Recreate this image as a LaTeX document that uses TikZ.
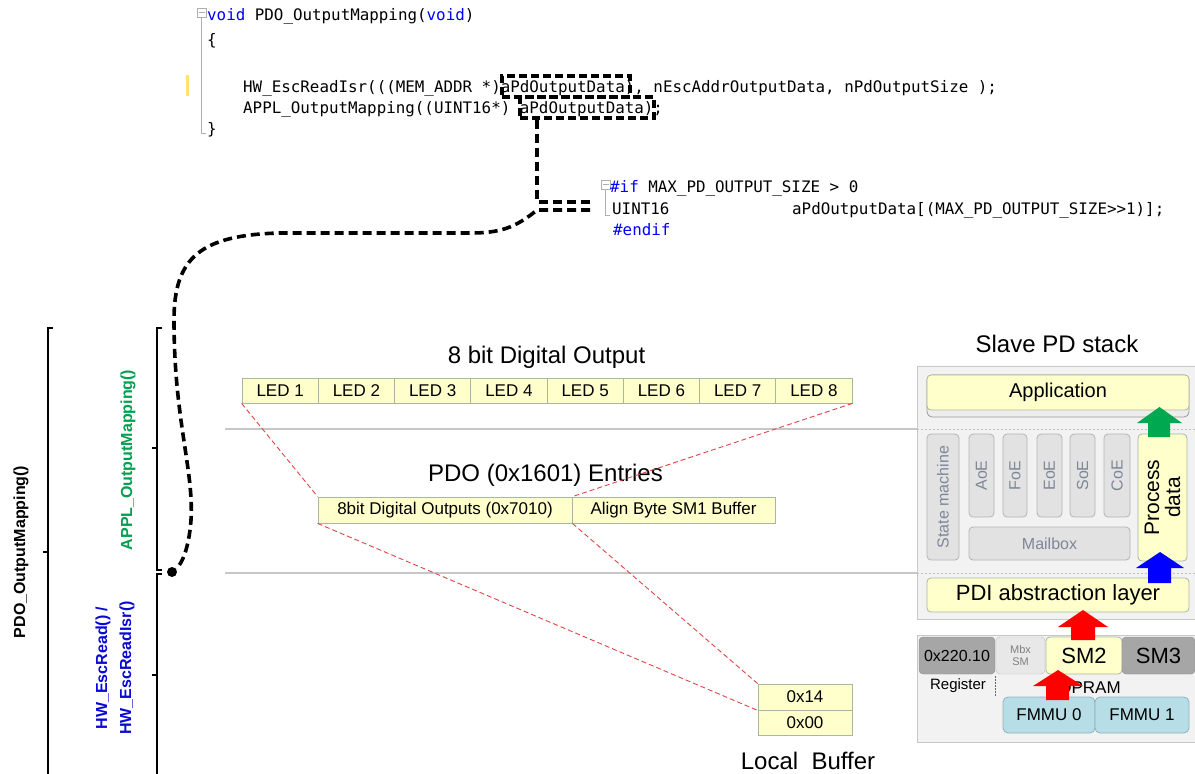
\documentclass[tikz,border=0pt]{standalone}
\usepackage{fontspec}
\setmainfont{Liberation Sans}
\newfontfamily\codefont{DejaVu Sans Mono}
\newcommand\fsz[2]{\fontsize{#1}{#2}\selectfont}
\definecolor{cellfill}{RGB}{255,255,204}
\definecolor{cellborder}{RGB}{168,184,160}
\definecolor{redline}{RGB}{220,70,70}
\definecolor{vsblue}{RGB}{0,0,255}
\definecolor{applgreen}{RGB}{0,160,80}
\definecolor{hwblue}{RGB}{10,10,210}
\definecolor{stackbg}{RGB}{242,242,242}
\definecolor{stackborder}{RGB}{200,200,200}
\definecolor{modfill}{RGB}{226,226,226}
\definecolor{modborder}{RGB}{180,180,180}
\definecolor{modtext}{RGB}{125,135,150}
\definecolor{darkcell}{RGB}{166,166,166}
\definecolor{tealfill}{RGB}{183,221,230}
\definecolor{tealborder}{RGB}{140,180,190}
\definecolor{arrgreen}{RGB}{0,168,80}
\definecolor{arrblue}{RGB}{0,0,255}
\definecolor{arrred}{RGB}{255,0,0}
\definecolor{foldgray}{RGB}{175,175,175}
\definecolor{changebar}{RGB}{255,228,110}
\begin{document}
\begin{tikzpicture}[x=1pt,y=-1pt,
  code/.style={font=\codefont\fsz{15.85}{19}, inner sep=0, anchor=base west},
  cell/.style={draw=cellborder, fill=cellfill, line width=0.8pt, inner sep=0, font=\fsz{17}{20}},
  title/.style={inner sep=0, font=\fsz{24}{28}},
  mapline/.style={draw=redline, dash pattern=on 5pt off 3pt, line width=0.9pt},
  linkline/.style={draw=black, line width=3.6pt, dash pattern=on 9pt off 5pt},
  hlbox/.style={draw=black, line width=3.3pt, dash pattern=on 8pt off 4pt, inner sep=0},
  bracketline/.style={draw=black, line width=1.6pt},
  sepline/.style={draw=black!22, line width=1.2pt},
  module/.style={draw=modborder, fill=modfill, rounded corners=4pt, inner sep=0, font=\fsz{16}{18}, text=modtext, line width=0.8pt},
  ylw/.style={draw=cellborder, fill=cellfill, rounded corners=4pt, inner sep=0, line width=0.8pt},
  lbl/.style={inner sep=0, font=\bfseries\fsz{16}{19}, rotate=90},
  foldbox/.style={draw=foldgray, fill=white, line width=0.8pt, inner sep=0, minimum size=9}
]
\useasboundingbox (0,0) rectangle (1195,774);
\fill[white] (0,0) rectangle (1195,774);

% ---------------- code block 1 ----------------
\node[foldbox] (fold1) at (201.5,12.5) {};
\draw[foldgray, line width=0.8pt] (198.5,12.5) -- (204.5,12.5);
\draw[foldgray, line width=0.8pt] (fold1.south) -- (201.5,133) -- (206,133);
\fill[changebar] (186,75) rectangle (189,96);
\node[code] (l1) at (207,20) {\textcolor{vsblue}{void} PDO\_OutputMapping(\textcolor{vsblue}{void})};
\node[code] (l2) at (207,45) {\{};
\node[code] (l4) at (243,92) {HW\_EscReadIsr(((MEM\_ADDR *)aPdOutputData), nEscAddrOutputData, nPdOutputSize );};
\node[code] (l5) at (243,113) {APPL\_OutputMapping((UINT16*) aPdOutputData);};
\node[code] (l6) at (207,134) {\}};
\node[hlbox, minimum width=128, minimum height=21] (hl1) at (566,86.5) {};
\node[hlbox, minimum width=134, minimum height=21] (hl2) at (587,107.5) {};

% ---------------- code block 2 ----------------
\node[foldbox] (fold2) at (605.5,184.5) {};
\draw[foldgray, line width=0.8pt] (602.5,184.5) -- (608.5,184.5);
\draw[foldgray, line width=0.8pt] (fold2.south) -- (605.5,215) -- (610,215);
\node[code] (ifl) at (610,192) {\textcolor{vsblue}{\#if} MAX\_PD\_OUTPUT\_SIZE > 0};
\node[code] (u16) at (612,214) {UINT16};
\node[code] (arr) at (792,214) {aPdOutputData[(MAX\_PD\_OUTPUT\_SIZE>\kern0pt>1)];};
\node[code] (endifl) at (613,235) {\textcolor{vsblue}{\#endif}};

% ---------------- dashed link ----------------
\coordinate (c1) at (537,202);
\coordinate (c2) at (590,202);
\coordinate (c3) at (590,210);
\coordinate (c4) at (537,210);
\node[circle, fill=black, inner sep=0, minimum size=10] (dot) at (172,572) {};
\draw[linkline] (hl2.south -| c1) -- (c1) -- (c2);
\draw[linkline] (c3) -- (c4) .. controls (515,228) and (500,233) .. (470,233) -- (280,233)
  .. controls (200,235) and (174,258) .. (174,320)
  .. controls (174,420) and (194,470) .. (191,520)
  .. controls (189,548) and (182,564) .. (dot);

% ---------------- left brackets ----------------
\draw[bracketline] (53,328) -- (48,328) -- (48,774);
\draw[bracketline] (43,552) -- (48,552);
\draw[bracketline] (162,328) -- (157,328) -- (157,570) -- (162,570);
\draw[bracketline] (152,448) -- (157,448);
\draw[bracketline] (162,574) -- (157,574) -- (157,774);
\draw[bracketline] (152,675) -- (157,675);
\node[lbl] (lblpdo) at (21,552) {PDO\_OutputMapping()};
\node[lbl, text=applgreen] (lblappl) at (128,460) {APPL\_OutputMapping()};
\node[lbl, text=hwblue, align=center, font=\bfseries\fsz{16}{24}] (lblhw) at (115,668) {HW\_EscRead() /\\HW\_EscReadIsr()};

% ---------------- separators ----------------
\draw[sepline] (225,429) -- (917,429);
\draw[sepline] (225,573) -- (917,573);

% ---------------- mapping area ----------------
\node[title] (ttl8) at (546.5,357) {8 bit Digital Output};
\foreach \i in {1,...,8}
  \node[cell, minimum width=76.25, minimum height=25] (led\i) at ({242+76.25*(\i-0.5)},390.5) {LED \i};
\node[title] (ttlpdo) at (545.5,475) {PDO (0x1601) Entries};
\node[cell, minimum width=254, minimum height=26] (pdo1) at (445,510) {8bit Digital Outputs (0x7010)};
\node[cell, minimum width=203, minimum height=26] (pdo2) at (673.5,510) {Align Byte SM1 Buffer};
\node[cell, minimum width=94, minimum height=26] (buf14) at (805,697) {0x14};
\node[cell, minimum width=94, minimum height=25] (buf00) at (805,722.5) {0x00};
\node[title] (ttlbuf) at (808,761) {Local~~Buffer};
\draw[mapline] (led1.south west) -- (pdo1.north west);
\draw[mapline] (led8.south east) -- (pdo1.north east);
\draw[mapline] (pdo1.south west) -- (buf14.south west);
\draw[mapline] (pdo1.south east) -- (buf14.north west);

% ---------------- slave stack ----------------
\node[title] (ttlstack) at (1057,344) {Slave PD stack};
\fill[stackbg] (917,366) rectangle (1195,619);
\draw[stackborder, line width=1pt] (1195,366) -- (917,366) -- (917,619) -- (1195,619);
\draw[black!25, line width=1pt, dash pattern=on 2pt off 2pt] (917,429) -- (1195,429);
\draw[black!25, line width=1pt, dash pattern=on 2pt off 2pt] (917,573) -- (1195,573);
\node[draw=black!40, fill=black!7, rounded corners=5pt, minimum width=262, minimum height=42, inner sep=0, line width=0.8pt] (appsh) at (1058,396) {};
\node[ylw, minimum width=262, minimum height=35, font=\fsz{20}{24}] (app) at (1058,392.5) {Application};
\node[module, rotate=90, minimum width=126, minimum height=32] (statem) at (943,497) {State machine};
\node[module, rotate=90, minimum width=83, minimum height=25] (aoe) at (981.5,475.5) {AoE};
\node[module, rotate=90, minimum width=83, minimum height=24] (foe) at (1015,475.5) {FoE};
\node[module, rotate=90, minimum width=83, minimum height=25] (eoe) at (1049.5,475.5) {EoE};
\node[module, rotate=90, minimum width=83, minimum height=25] (soe) at (1082.5,475.5) {SoE};
\node[module, rotate=90, minimum width=83, minimum height=26] (coe) at (1117,475.5) {CoE};
\node[module, minimum width=161, minimum height=33] (mbx) at (1049.5,543.5) {Mailbox};
\node[ylw, rotate=90, minimum width=127, minimum height=49, align=center, font=\fsz{21}{21}] (pdata) at (1162.5,497.5) {Process\\data};
\node[ylw, minimum width=262, minimum height=34, font=\fsz{22}{26}] (pdi) at (1058,595) {PDI abstraction layer};
\fill[arrgreen] (1148,437) -- (1148,423) -- (1137,423) -- (1159.5,407) -- (1182,423) -- (1170,423) -- (1170,437) -- cycle;
\fill[arrblue] (1148,583) -- (1148,568) -- (1136,568) -- (1160,552) -- (1184,568) -- (1171,568) -- (1171,583) -- cycle;

% ---------------- ESC ----------------
\fill[stackbg] (917,635) rectangle (1195,742);
\draw[stackborder, line width=1pt] (1195,635) -- (917,635) -- (917,742) -- (1195,742);
\node[draw=black!45, fill=darkcell, rounded corners=4pt, inner sep=0, minimum width=76, minimum height=37, font=\fsz{16}{19}] (reg) at (957,655.5) {0x220.10};
\node[draw=black!25, fill=black!9, rounded corners=4pt, inner sep=0, minimum width=49, minimum height=37, align=center, font=\fsz{11}{12}, text=black!50] (mbxsm) at (1020.5,655.5) {Mbx\\SM};
\node[ylw, minimum width=76, minimum height=37, font=\fsz{22}{26}] (sm2) at (1084,655.5) {SM2};
\node[draw=black!45, fill=darkcell, rounded corners=4pt, inner sep=0, minimum width=73, minimum height=37, font=\fsz{22}{26}] (sm3) at (1158.5,655.5) {SM3};
\node[inner sep=0, font=\fsz{15}{18}] (regtxt) at (958,686) {Register};
\draw[black!60, line width=0.8pt, dash pattern=on 1.5pt off 1.5pt] (995,676) -- (995,696);
\node[inner sep=0, font=\fsz{17}{20}] (dpram) at (1090,688) {DPRAM};
\node[draw=tealborder, fill=tealfill, rounded corners=5pt, inner sep=0, minimum width=92, minimum height=36, font=\fsz{17}{20}, line width=0.8pt] (fmmu0) at (1049,715) {FMMU 0};
\node[draw=tealborder, fill=tealfill, rounded corners=5pt, inner sep=0, minimum width=94, minimum height=36, font=\fsz{17}{20}, line width=0.8pt] (fmmu1) at (1142,715) {FMMU 1};
\fill[arrred] (1071,640) -- (1071,627) -- (1058,627) -- (1083,610) -- (1108,627) -- (1095,627) -- (1095,640) -- cycle;
\fill[arrred] (1046,700) -- (1046,686) -- (1033,686) -- (1058,670) -- (1083,686) -- (1069,686) -- (1069,700) -- cycle;
\end{tikzpicture}
\end{document}
